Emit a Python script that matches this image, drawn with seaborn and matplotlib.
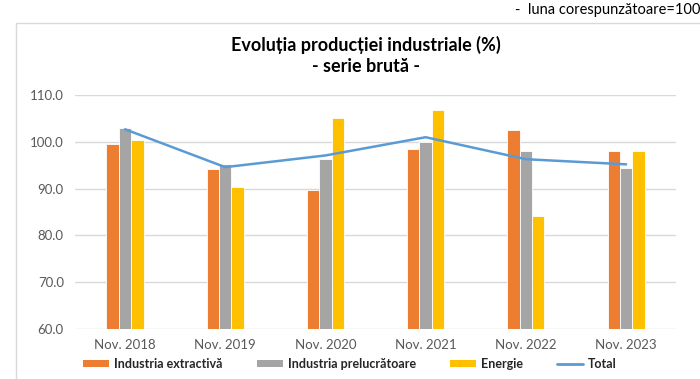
import pandas as pd
import seaborn as sns
import matplotlib.pyplot as plt
from matplotlib.patches import Rectangle, Patch
from matplotlib.lines import Line2D
from matplotlib.ticker import FormatStrFormatter

# --- data ---
luni = ["Nov. 2018", "Nov. 2019", "Nov. 2020", "Nov. 2021", "Nov. 2022", "Nov. 2023"]
extractiva = [99.5, 94.3, 89.8, 98.5, 102.5, 98.0]
prelucratoare = [102.9, 95.2, 96.3, 100.0, 98.0, 94.5]
energie = [100.3, 90.4, 105.2, 106.9, 84.2, 98.0]
total = [102.7, 94.6, 97.1, 101.0, 96.3, 95.2]

serii = ["Industria extractivă", "Industria prelucrătoare", "Energie"]
culori = ["#ED7D31", "#A5A5A5", "#FFC000"]
culoare_total = "#5B9BD5"

df = pd.DataFrame({
    "luna": luni * 3,
    "valoare": extractiva + prelucratoare + energie,
    "serie": [s for s in serii for _ in luni],
})

sns.set_theme(style="white")
plt.rcParams["font.family"] = ["Lato", "DejaVu Sans"]

fig = plt.figure(figsize=(7, 3.79), dpi=100)
ax = fig.add_axes([0.107, 0.132, 0.859, 0.617])

# chart frame (Excel style)
fig.patches.append(Rectangle((16 / 700, -0.05), 1.0, 1 - 23 / 379 + 0.05,
                             transform=fig.transFigure, fill=False,
                             edgecolor="#D9D9D9", linewidth=1))

sns.barplot(data=df, x="luna", y="valoare", hue="serie", palette=culori,
            saturation=1, width=0.37, gap=0, edgecolor="white", linewidth=0.6,
            legend=False, ax=ax, zorder=2)
sns.pointplot(x=luni, y=total, color=culoare_total, marker="", linewidth=1.8,
              ax=ax, zorder=3)

ax.set_ylim(60, 110)
ax.set_yticks([60, 70, 80, 90, 100, 110])
ax.yaxis.set_major_formatter(FormatStrFormatter("%.1f"))
ax.set_xlim(-0.5, 5.5)
ax.grid(axis="y", color="#D9D9D9", linewidth=1, zorder=0)
ax.set_axisbelow(True)
for s in ax.spines.values():
    s.set_visible(False)
ax.set_xlabel("")
ax.set_ylabel("")
ax.tick_params(axis="both", colors="#595959", labelsize=9.5, length=0)
ax.tick_params(axis="x", pad=7)
ax.tick_params(axis="y", pad=8)

fig.text(366 / 700, 1 - 45 / 379, "Evoluția producției industriale (%)",
         ha="center", va="center", fontsize=13, fontweight="bold", color="#000000")
fig.text(366 / 700, 1 - 66 / 379, "- serie brută -",
         ha="center", va="center", fontsize=13, fontweight="bold", color="#000000")
fig.text(1.0, 1 - 10 / 379, "-  luna corespunzătoare=100",
         ha="right", va="center", fontsize=10.5, color="#000000")

handles = [Patch(facecolor=c, edgecolor="none") for c in culori]
handles.append(Line2D([0], [0], color=culoare_total, linewidth=2))
fig.legend(handles, serii + ["Total"], loc="center", ncol=4,
           bbox_to_anchor=(350 / 700, 1 - 364 / 379), frameon=False,
           prop={"size": 9, "weight": "bold"}, handlelength=2.1,
           handleheight=0.45, handletextpad=0.4, columnspacing=2.7,
           borderpad=0)

fig.savefig("out.png", dpi=100)
